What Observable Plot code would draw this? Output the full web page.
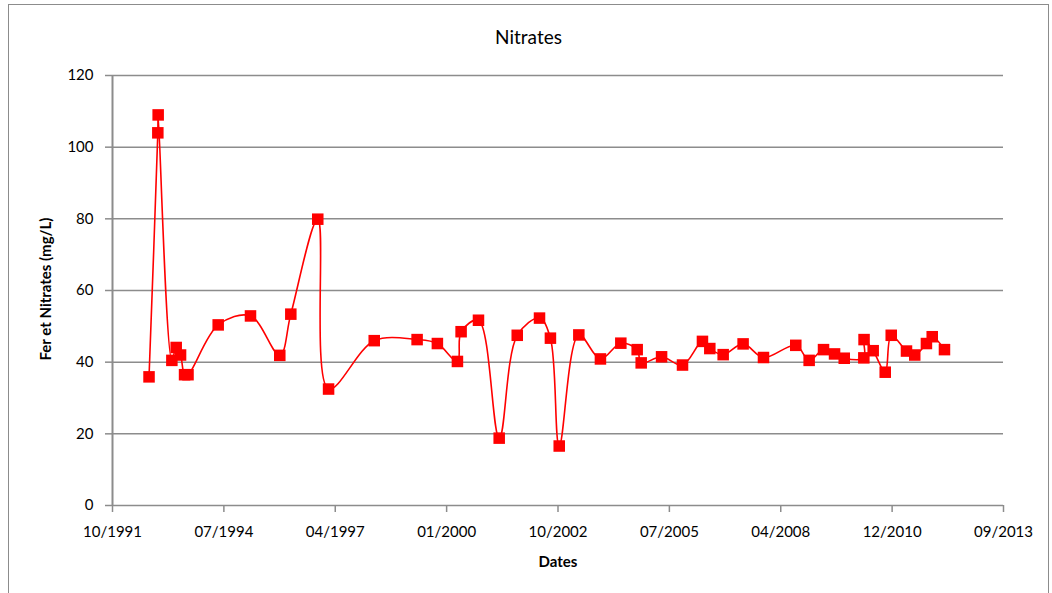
<!DOCTYPE html>
<html><head><meta charset="utf-8">
<script src="https://cdn.jsdelivr.net/npm/d3@7"></script>
<script src="https://cdn.jsdelivr.net/npm/@observablehq/plot@0.6"></script>
<style>
body{margin:0;background:#fff;font-family:Lato,"Open Sans",sans-serif}
#wrap{position:relative;width:1052px;height:593px;overflow:hidden}
#frame{position:absolute;left:8px;top:4px;width:1041px;height:620px;border:1px solid #8c8c8c;box-sizing:border-box}
#chart{position:absolute;left:0;top:0}
#title{position:absolute;left:8px;width:1041px;top:25px;text-align:center;font-size:19px;color:#000}
#xlabel{position:absolute;left:458px;width:200px;top:552px;text-align:center;font-size:15px;font-weight:bold}
#ylabel{position:absolute;left:-105px;width:300px;top:280px;text-align:center;font-size:15px;font-weight:bold;transform:rotate(-90deg)}
</style></head>
<body>
<div id="wrap">
<div id="frame"></div>
<div id="chart"></div>
<div id="title">Nitrates</div>
<div id="xlabel">Dates</div>
<div id="ylabel">Fer et Nitrates (mg/L)</div>
</div>
<script>
const dates = ["1992-09-21","1992-12-09","1992-12-12","1993-04-14","1993-05-23","1993-07-01","1993-08-06","1993-09-06",
"1994-06-04","1995-03-21","1995-12-09","1996-03-17","1996-11-14","1997-02-19","1998-04-05","1999-04-25","1999-10-24",
"2000-04-21","2000-05-24","2000-10-27","2001-05-01","2001-10-10","2002-04-28","2002-08-04","2002-10-22","2003-04-16",
"2003-10-27","2004-04-27","2004-09-21","2004-10-27","2005-04-28","2005-11-02","2006-04-30","2006-07-05","2006-11-02",
"2007-04-30","2007-10-30","2008-08-15","2008-12-13","2009-04-21","2009-07-29","2009-10-24","2010-04-18","2010-04-20",
"2010-07-11","2010-10-27","2010-12-20","2011-05-06","2011-07-19","2011-11-01","2011-12-23","2012-04-11"];
const nitrates = [35.9,104.0,109.0,40.5,44.1,42.0,36.5,36.5,
50.4,52.9,41.9,53.4,79.9,32.5,46.0,46.3,45.2,
40.2,48.5,51.7,18.8,47.5,52.3,46.7,16.6,47.6,
40.9,45.3,43.5,39.8,41.5,39.2,45.8,43.8,42.1,
45.1,41.3,44.7,40.5,43.5,42.3,41.1,41.2,46.3,
43.2,37.2,47.5,43.1,42.0,45.2,47.1,43.5];
const xTickDates = ["1991-10-29","1994-07-25","1997-04-20","2000-01-15","2002-10-11","2005-07-07","2008-04-02","2010-12-28","2013-09-23"];
const yTicks = [0,20,40,60,80,100,120];

const data = dates.map((d,i)=>({date:new Date(d), value:nitrates[i]}));
const xt = xTickDates.map(d=>new Date(d));
const grey = "#8c8c8c";
const chart = Plot.plot({
  width:1052, height:593,
  marginLeft:112, marginRight:49, marginTop:75, marginBottom:88,
  style:{fontFamily:"Lato, 'Open Sans', sans-serif", fontSize:"15px", color:"#000", background:"transparent", overflow:"visible"},
  x:{type:"utc", domain:[xt[0], xt[xt.length-1]]},
  y:{domain:[0,120]},
  marks:[
    Plot.gridY(yTicks,{stroke:grey, strokeOpacity:1, strokeWidth:1.5}),
    Plot.ruleX([xt[0]],{stroke:grey, strokeWidth:2}),
    Plot.axisY(yTicks,{tickSize:7, tickPadding:12, label:null, stroke:grey, strokeWidth:1.5, fill:"#000"}),
    Plot.axisX(xt,{tickSize:7, tickPadding:14, label:null, stroke:grey, strokeWidth:1.5, fill:"#000", tickFormat:d3.utcFormat("%m/%Y")}),
    Plot.line(data,{x:"date", y:"value", stroke:"#ff0000", strokeWidth:1.6, curve:"catmull-rom"}),
    Plot.dot(data,{x:"date", y:"value", symbol:"square", fill:"#ff0000", r:6.5})
  ]
});
document.getElementById("chart").appendChild(chart);
</script>
</body></html>
